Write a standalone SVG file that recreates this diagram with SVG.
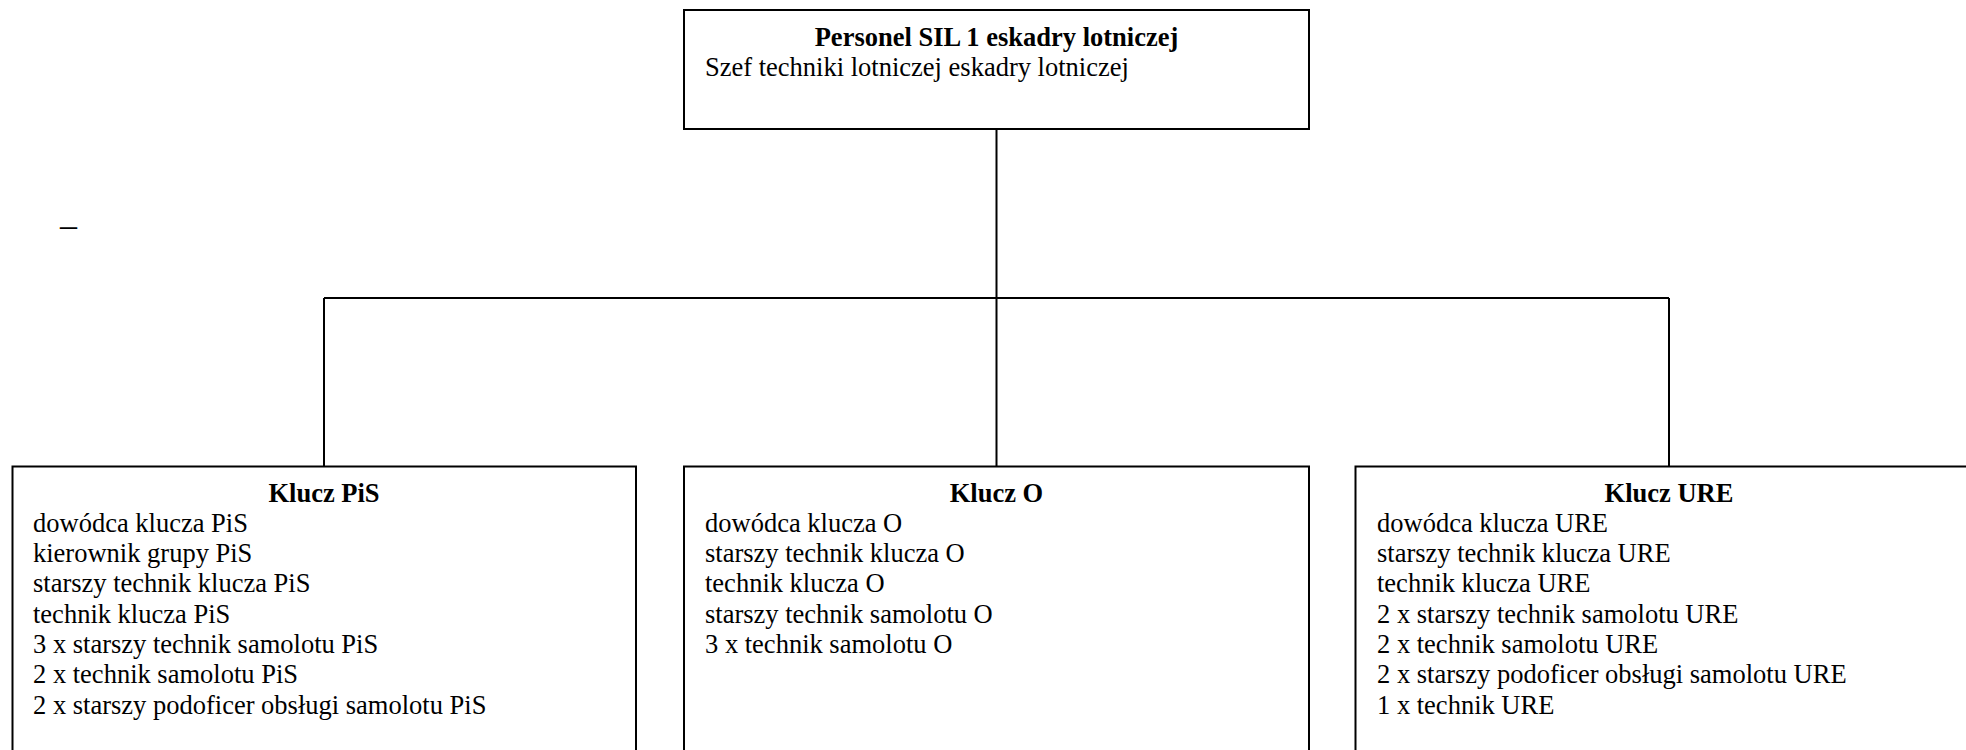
<svg xmlns="http://www.w3.org/2000/svg" width="1966" height="750" viewBox="0 0 1966 750">
<style>
.box{fill:#fff;stroke:#000;stroke-width:2}
.conn{fill:none;stroke:#000;stroke-width:2}
text{font-family:"Liberation Serif","Times New Roman",serif;font-size:26.5px;fill:#000}
.t{font-weight:bold;text-anchor:middle}
</style>
<rect width="1966" height="750" fill="#fff"/>
<g id="connectors">
<path class="conn" d="M996.5 129V298M324 298H1669M324 298V466.5M996.5 298V466.5M1669 298V466.5"/>
</g>
<g id="node-top">
<rect class="box" x="684" y="10" width="625" height="119"/>
<text class="t" x="996.5" y="46">Personel SIL 1 eskadry lotniczej</text>
<text x="705" y="76">Szef techniki lotniczej eskadry lotniczej</text>
</g>
<g id="node-pis">
<rect class="box" x="12.5" y="466.5" width="623.5" height="300"/>
<text class="t" x="324" y="501.7">Klucz PiS</text>
<text x="33" y="531.7">dowódca klucza PiS</text>
<text x="33" y="562">kierownik grupy PiS</text>
<text x="33" y="592.3">starszy technik klucza PiS</text>
<text x="33" y="622.6">technik klucza PiS</text>
<text x="33" y="652.9">3 x starszy technik samolotu PiS</text>
<text x="33" y="683.2">2 x technik samolotu PiS</text>
<text x="33" y="713.5">2 x starszy podoficer obsługi samolotu PiS</text>
</g>
<g id="node-o">
<rect class="box" x="684" y="466.5" width="625" height="300"/>
<text class="t" x="996.5" y="501.7">Klucz O</text>
<text x="705" y="531.7">dowódca klucza O</text>
<text x="705" y="562">starszy technik klucza O</text>
<text x="705" y="592.3">technik klucza O</text>
<text x="705" y="622.6">starszy technik samolotu O</text>
<text x="705" y="652.9">3 x technik samolotu O</text>
</g>
<g id="node-ure">
<rect class="box" x="1355.5" y="466.5" width="627" height="300"/>
<text class="t" x="1669" y="501.7">Klucz URE</text>
<text x="1377" y="531.7">dowódca klucza URE</text>
<text x="1377" y="562">starszy technik klucza URE</text>
<text x="1377" y="592.3">technik klucza URE</text>
<text x="1377" y="622.6">2 x starszy technik samolotu URE</text>
<text x="1377" y="652.9">2 x technik samolotu URE</text>
<text x="1377" y="683.2">2 x starszy podoficer obsługi samolotu URE</text>
<text x="1377" y="713.5">1 x technik URE</text>
</g>
<text x="60" y="236" style="font-size:34px">–</text>
</svg>
